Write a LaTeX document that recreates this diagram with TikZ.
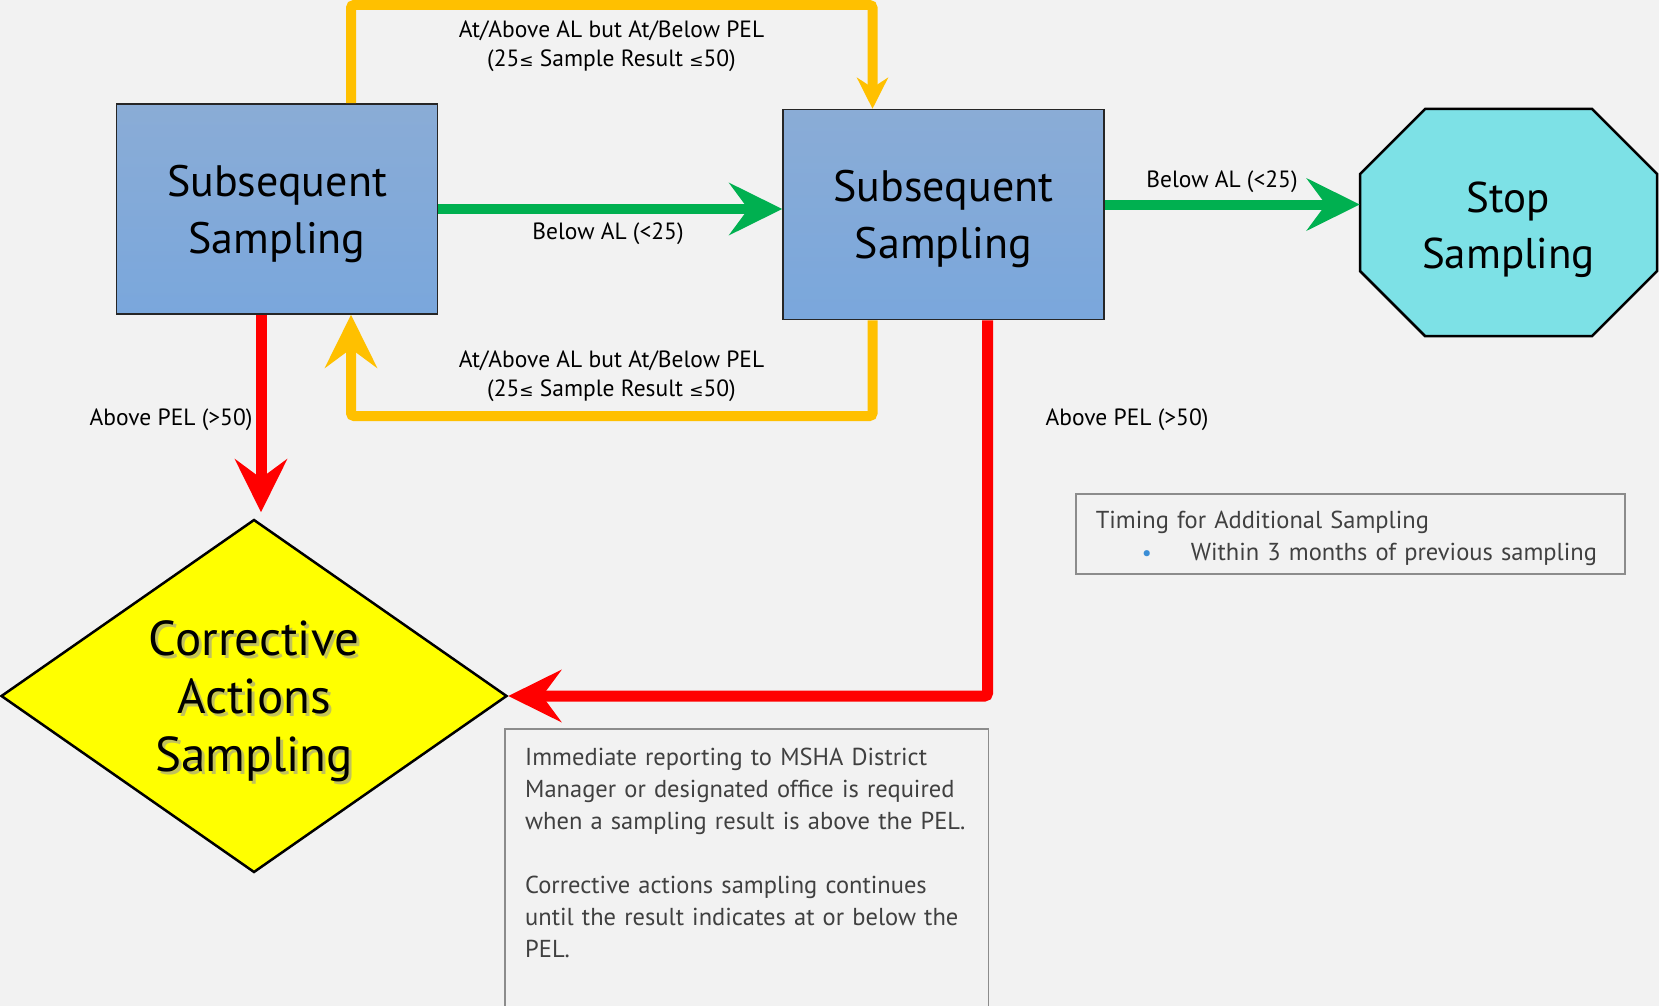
\documentclass[tikz,border=0pt]{standalone}
\usepackage{fontspec}
\setmainfont{PT Sans}
\newfontfamily\symfont{DejaVu Sans}
\usetikzlibrary{arrows.meta,shapes.geometric}
\definecolor{bggray}{HTML}{F2F2F2}
\definecolor{boxtop}{HTML}{8AACD6}
\definecolor{boxbot}{HTML}{7AA7DC}
\definecolor{stopcyan}{HTML}{7DE1E6}
\definecolor{corryellow}{HTML}{FFFF00}
\definecolor{amber}{HTML}{FFC000}
\definecolor{okgreen}{HTML}{00B050}
\definecolor{pelred}{HTML}{FF0000}
\definecolor{notegray}{HTML}{404040}
\definecolor{noteline}{HTML}{8C8C8C}
\definecolor{dotblue}{HTML}{3B8ED6}

\newcommand{\lesym}{{\symfont\fontsize{17}{17}\selectfont ≤}}

\tikzset{
	sampbox/.style={rectangle, draw=black!85, line width=1.5pt, top color=boxtop, bottom color=boxbot,
		minimum width=321pt, minimum height=210pt, align=center, text depth=0pt, font=\fontsize{44}{57}\selectfont},
	bigtxt/.style={align=center, text depth=0pt, font=\fontsize{43}{56}\selectfont},
	diatxt/.style={align=center, text depth=0pt, font=\fontsize{49}{58}\selectfont},
	edgelab/.style={align=center, font=\fontsize{23.5}{29}\selectfont},
	notetext/.style={rectangle, align=left, text=notegray, font=\fontsize{24.5}{32}\selectfont, inner xsep=20pt},
	noterule/.style={draw=noteline, line width=1.5pt},
	bighead/.style={-{Stealth[length=53pt, width=52pt, inset=19pt]}},
	yline/.style={amber, line width=10pt, rounded corners=3pt},
	gline/.style={okgreen, line width=10pt, bighead},
	rline/.style={pelred, line width=11pt, rounded corners=3pt, bighead}
}

\begin{document}
\begin{tikzpicture}[x=1pt, y=-1pt]
	\fill[bggray] (0,0) rectangle (1659,1006);
	\useasboundingbox (0,0) rectangle (1659,1006);

	% sampling boxes
	\node[sampbox] (subA) at (277,209) {Subsequent\\Sampling};
	\node[sampbox] (subB) at (943.5,214.5) {Subsequent\\Sampling};

	% stop sign
	\coordinate (stopc) at (1508.5,222.5);
	\draw[fill=stopcyan, line width=2.5pt] (stopc) ++(-83.5,-113.5) -- ++(167,0) -- ++(65,65) -- ++(0,97)
		-- ++(-65,65) -- ++(-167,0) -- ++(-65,-65) -- ++(0,-97) -- cycle;
	\node[bigtxt, minimum width=297pt, minimum height=227pt] (stop) at ([yshift=-3pt]stopc) {Stop\\Sampling};

	% corrective actions diamond, text with a soft shadow
	\node[diamond, draw, line width=2.5pt, fill=corryellow, minimum width=506pt, minimum height=353pt] (corr) at (254,696) {};
	\node[diatxt, text=black!40, opacity=0.6] (corrshadow) at ([shift={(3pt,-3pt)}]corr.center) {Corrective\\Actions\\Sampling};
	\node[diatxt] (corrtxt) at (corr.center) {Corrective\\Actions\\Sampling};

	% amber loops between the two boxes
	\coordinate (ytop) at (0,5);
	\coordinate (ybot) at (0,416);
	\draw[yline, -{Stealth[length=31pt, width=31pt, inset=10pt]}] ([xshift=74pt]subA.north) |- ([xshift=-71pt]subB.north |- ytop) -- ([xshift=-71pt]subB.north);
	\draw[yline, bighead] ([xshift=-71pt]subB.south) |- ([xshift=74pt]subA.south |- ybot) -- ([xshift=74pt]subA.south);
	\node[edgelab] (uplab) at (611.5,46) {At/Above AL but At/Below PEL\\(25\lesym{} Sample Result \lesym50)};
	\node[edgelab] (backlab) at (611.5,376.5) {At/Above AL but At/Below PEL\\(25\lesym{} Sample Result \lesym50)};

	% green: below AL
	\draw[gline] (subA.east) -- (subA.east -| subB.west);
	\draw[gline] ([yshift=10pt]subB.east) -- ([yshift=10pt]subB.east -| stop.west);
	\node[edgelab] (belowA) at (608,234) {Below AL (<25)};
	\node[edgelab] (belowB) at (1222,182) {Below AL (<25)};

	% red: above PEL
	\draw[rline, shorten >=6pt] ([xshift=-16pt]subA.south) -- ([xshift=-16pt]subA.south |- corr.north);
	\draw[rline] ([xshift=44pt]subB.south) |- (corr.east);
	\node[edgelab] (abovA) at (171,420) {Above PEL (>50)};
	\node[edgelab] (abovB) at (1127,420) {Above PEL (>50)};

	% notes (the reporting frame runs on past the bottom edge)
	\node[notetext, anchor=north west, text width=443pt, inner ysep=12pt] (report) at (505,729)
		{\rule{0pt}{24pt}Immediate reporting to MSHA District\\Manager or designated office is required\\when a sampling result is above the PEL.\\[32pt]Corrective actions sampling continues\\until the result indicates at or below the\\PEL.};
	\draw[noterule] ([yshift=-120pt]report.south west) |- (report.north east) -- ([yshift=-120pt]report.south east);
	\node[notetext, noterule, anchor=north west, text width=509pt, inner ysep=8pt] (timing) at (1075,493)
		{\rule{0pt}{27pt}Timing for Additional Sampling\\\hspace*{46pt}\makebox[49pt][l]{\color{dotblue}\fontsize{22}{22}\selectfont\textbullet}Within 3 months of previous sampling};
\end{tikzpicture}
\end{document}
